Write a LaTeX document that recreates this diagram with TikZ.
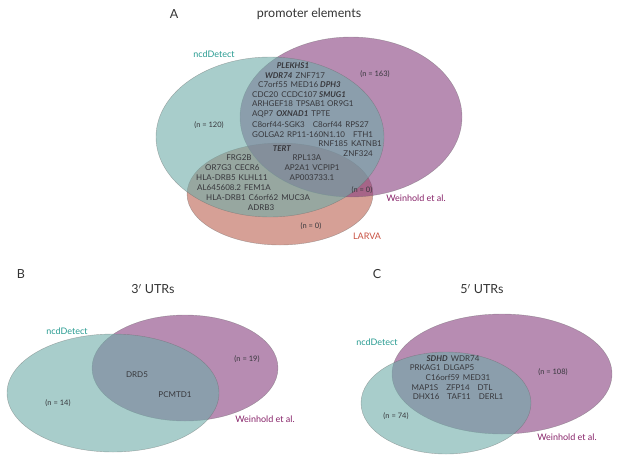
\documentclass[tikz,border=0pt]{standalone}
\usepackage{fontspec}
\setmainfont{Lato}
\usetikzlibrary{shapes.geometric, positioning}
\definecolor{ncdC}{RGB}{110,172,168}
\definecolor{weiC}{RGB}{135,63,127}
\definecolor{larC}{RGB}{187,97,80}
\definecolor{ncdT}{RGB}{40,155,145}
\definecolor{weiT}{RGB}{135,35,105}
\definecolor{larT}{RGB}{200,80,65}
\definecolor{geneT}{RGB}{55,55,60}
\tikzstyle{setNode} = [ellipse, inner sep=0pt, fill opacity=0.6, draw=black!60, draw opacity=0.5, line width=0.4pt]
\tikzstyle{ncdSet} = [setNode, fill=ncdC]
\tikzstyle{weiSet} = [setNode, fill=weiC]
\tikzstyle{larSet} = [setNode, fill=larC]
\tikzstyle{geneNode} = [font=\fontsize{8}{9}\selectfont, text=geneT, inner sep=0pt]
\tikzstyle{cntNode} = [font=\fontsize{7.5}{8}\selectfont, text=geneT, inner sep=0pt]
\tikzstyle{titleNode} = [font=\fontsize{12.5}{14}\selectfont, text=black!80, inner sep=0pt]
\tikzstyle{setLabel} = [font=\fontsize{9}{10}\selectfont, inner sep=0pt]
\newcommand{\bi}[1]{\textbf{\textit{#1}}}
\newcommand{\gp}{\hspace{3pt}}
\newcommand{\gpw}{\hspace{8pt}}

\begin{document}
\begin{tikzpicture}[x=1pt, y=-1pt, node distance=10pt]
        \useasboundingbox (0,0) rectangle (617,463);
        % A: promoter elements
        \node (letA) [titleNode] at (174,14) {A};
        \node (titA) [titleNode] at (309,14) {promoter elements};
        \node (larA) [larSet, minimum width=186pt, minimum height=102pt] at (280,194) {};
        \node (weiA) [weiSet, minimum width=222pt, minimum height=160pt] at (351,117) {};
        \node (ncdA) [ncdSet, minimum width=228pt, minimum height=160pt] at (270,137) {};
        \node (ncdLabA) [setLabel, text=ncdT] at (214,54) {ncdDetect};
        \node (weiLabA) [setLabel, text=weiT] at (416,198) {Weinhold et al.};
        \node (larLabA) [setLabel, text=larT] at (367,236) {LARVA};
        \node (nWeiA) [cntNode] at (375,74) {(n = 163)};
        \node (nNcdA) [cntNode] at (209,125) {(n = 120)};
        \node (nWLA) [cntNode] at (362,190) {(n = 0)};
        \node (nLarA) [cntNode] at (311,226) {(n = 0)};
        \node (g1) [geneNode] at (293,66) {\bi{PLEKHS1}};
        \node (g2) [geneNode] at (295,76) {\bi{WDR74}\gp ZNF717};
        \node (g3) [geneNode, anchor=west] at (258,85) {C7orf55\gp MED16 \bi{DPH3}};
        \node (g4) [geneNode, anchor=west] at (252,95) {CDC20\gp CCDC107 \bi{SMUG1}};
        \node (g5) [geneNode, anchor=west] at (252,104) {ARHGEF18\gp TPSAB1 OR9G1};
        \node (g6) [geneNode, anchor=west] at (252,114) {AQP7\gp \bi{OXNAD1}\gp TPTE};
        \node (g7) [geneNode, anchor=west] at (252,125) {C8orf44-SGK3\gpw C8orf44\gp RPS27};
        \node (g8) [geneNode, anchor=west] at (252,135) {GOLGA2\gp RP11-160N1.10\gpw FTH1};
        \node (g9) [geneNode, anchor=east] at (382,144) {RNF185\gp KATNB1};
        \node (g10) [geneNode, anchor=east] at (373,154) {ZNF324};
        \node (g11) [geneNode] at (282,149) {\bi{TERT}};
        \node (g12) [geneNode] at (307,158) {RPL13A};
        \node (g13) [geneNode] at (312,168) {AP2A1\gp VCPIP1};
        \node (g14) [geneNode] at (312,178) {AP003733.1};
        \node (g15) [geneNode] at (239,158) {FRG2B};
        \node (g16) [geneNode, anchor=west] at (205,168) {OR7G3\gp CECR6};
        \node (g17) [geneNode, anchor=west] at (196,178) {HLA-DRB5\gp KLHL11};
        \node (g18) [geneNode, anchor=west] at (197,188) {AL645608.2\gp FEM1A};
        \node (g19) [geneNode, anchor=west] at (206,198) {HLA-DRB1\gp C6orf62\gp MUC3A};
        \node (g20) [geneNode] at (261,208) {ADRB3};
        % B: 3' UTRs
        \node (letB) [titleNode] at (21,274) {B};
        \node (titB) [titleNode] at (153,289) {3$'$ UTRs};
        \node (weiB) [weiSet, minimum width=186pt, minimum height=106pt] at (185,368) {};
        \node (ncdB) [ncdSet, minimum width=212pt, minimum height=118pt] at (113,393) {};
        \node (ncdLabB) [setLabel, text=ncdT] at (67,331) {ncdDetect};
        \node (weiLabB) [setLabel, text=weiT] at (265,419) {Weinhold et al.};
        \node (nNcdB) [cntNode] at (58,403) {(n = 14)};
        \node (nWeiB) [cntNode] at (247,359) {(n = 19)};
        \node (b1) [geneNode] at (137,375) {DRD5};
        \node (b2) [geneNode] at (175,395) {PCMTD1};
        % C: 5' UTRs
        \node (letC) [titleNode] at (377,274) {C};
        \node (titC) [titleNode] at (482,289) {5$'$ UTRs};
        \node (weiC) [weiSet, minimum width=220pt, minimum height=120pt] at (502,374) {};
        \node (ncdC) [ncdSet, minimum width=170pt, minimum height=102pt] at (446,403) {};
        \node (ncdLabC) [setLabel, text=ncdT] at (377,342) {ncdDetect};
        \node (weiLabC) [setLabel, text=weiT] at (567,437) {Weinhold et al.};
        \node (nNcdC) [cntNode] at (396,416) {(n = 74)};
        \node (nWeiC) [cntNode] at (553,372) {(n = 108)};
        \node (c1) [geneNode] at (453,359) {\bi{SDHD}\gp WDR74};
        \node (c2) [geneNode] at (442,368) {PRKAG1\gp DLGAP5};
        \node (c3) [geneNode] at (458,378) {C16orf59\gp MED31};
        \node (c4) [geneNode] at (452,388) {MAP1S\gpw ZFP14\gpw DTL};
        \node (c5) [geneNode] at (458,397) {DHX16\gpw TAF11\gpw DERL1};
\end{tikzpicture}
\end{document}
